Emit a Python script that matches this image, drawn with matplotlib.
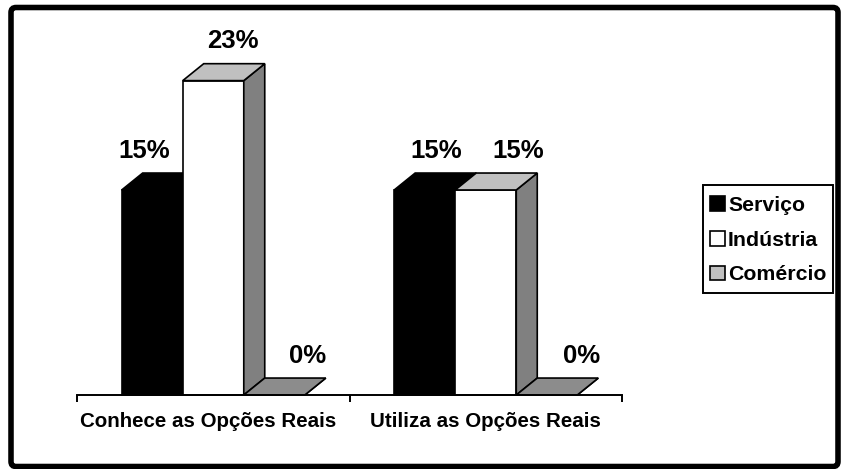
import matplotlib.pyplot as plt
from matplotlib.patches import Polygon, Patch, Rectangle, FancyBboxPatch
from matplotlib.transforms import IdentityTransform

categories = ["Conhece as Opções Reais", "Utiliza as Opções Reais"]
series = ["Serviço", "Indústria", "Comércio"]
servico = [15, 15]
industria = [23, 15]
comercio = [0, 0]

plt.rcParams['font.family'] = ['Liberation Sans', 'DejaVu Sans']
plt.rcParams['font.weight'] = 'bold'

# front / top / side shading for each series
faces = [
    ("black", "black", "black"),
    ("white", "#c0c0c0", "#808080"),
    ("#c0c0c0", "#8c8c8c", "#808080"),
]
# horizontal nudge of the value labels (points), per group and series
label_nudge = [[-6, 14, 24], [8, 23, 25]]

W, H = 842, 469
fig = plt.figure(figsize=(W / 100, H / 100), dpi=100)
ax = fig.add_axes([77 / W, 1 - 395 / H, 545 / W, (395 - 53.3) / H])
ax.set_xlim(0, 2)
ax.set_ylim(0, 25)

bar_w = 0.224
dx, dy = 0.077, 1.24   # depth of the 3d boxes

values = [servico, industria, comercio]
for g in range(len(categories)):
    x_start = g + 0.5 - 1.5 * bar_w
    for s, vals in enumerate(values):
        v = vals[g]
        x0 = x_start + s * bar_w
        x1 = x0 + bar_w
        front, top, side = faces[s]
        kw = dict(edgecolor='black', linewidth=1.2, joinstyle='miter', clip_on=False)
        ax.add_patch(Polygon([(x0, 0), (x1, 0), (x1, v), (x0, v)], facecolor=front, **kw))
        ax.add_patch(Polygon([(x1, 0), (x1 + dx, dy), (x1 + dx, v + dy), (x1, v)],
                             facecolor=side, **kw))
        ax.add_patch(Polygon([(x0, v), (x0 + dx, v + dy), (x1 + dx, v + dy), (x1, v)],
                             facecolor=top, **kw))
        ax.annotate(f"{v}%", xy=((x0 + x1) / 2, v + dy), xytext=(label_nudge[g][s], 11),
                    textcoords='offset points', ha='center', va='baseline',
                    fontsize=18.5, fontweight='bold', annotation_clip=False)

for sp in ['left', 'top', 'right']:
    ax.spines[sp].set_visible(False)
ax.spines['bottom'].set_linewidth(1.4)
ax.set_yticks([])
ax.set_xticks([0, 1, 2])
ax.set_xticklabels([])
ax.tick_params(axis='x', which='major', direction='out', length=5, width=1.4)
ax.set_xticks([0.48, 1.5], minor=True)
ax.set_xticklabels(categories, minor=True, fontsize=14.8, fontweight='bold')
ax.tick_params(axis='x', which='minor', length=0, pad=12)

# legend entries, boxed by a plain rectangle
handles = [Patch(facecolor=f[0], edgecolor='black', linewidth=1.2) for f in faces]
fig.legend(handles, series, loc='center left', bbox_to_anchor=(710 / W, 1 - 240 / H),
           frameon=False, prop=dict(size=15.3, weight='bold'),
           handlelength=0.7, handleheight=0.7, handletextpad=0.15,
           labelspacing=0.75, borderpad=0, borderaxespad=0)
fig.patches.append(Rectangle((703, H - 293), 130, 108, facecolor='none', edgecolor='black',
                             linewidth=1.4, transform=IdentityTransform()))

# rounded frame round the whole chart
fig.patches.append(FancyBboxPatch((11, 2.5), 827, 459, boxstyle="round,pad=0,rounding_size=5",
                                  facecolor='none', edgecolor='black', linewidth=4,
                                  transform=IdentityTransform()))

fig.savefig("out.png", dpi=100)
